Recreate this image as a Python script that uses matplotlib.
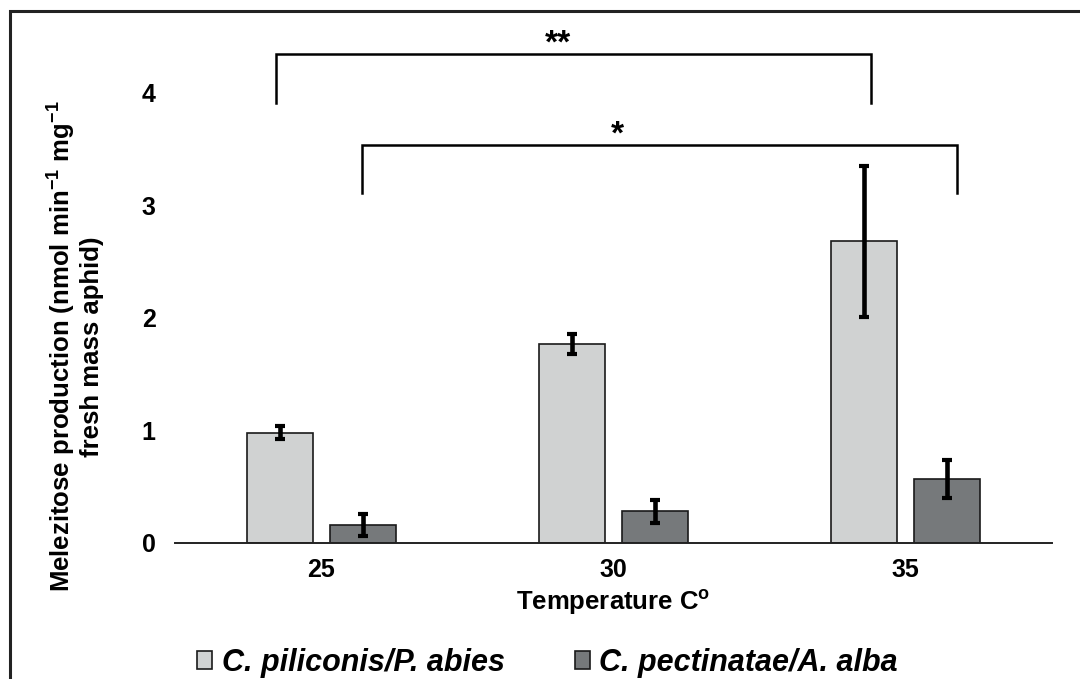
import matplotlib
matplotlib.use("Agg")
import matplotlib.pyplot as plt
import matplotlib.patches as mpatches
import numpy as np

plt.rcParams['font.family'] = ['Liberation Sans', 'DejaVu Sans']
plt.rcParams['font.weight'] = 'bold'
plt.rcParams['mathtext.fontset'] = 'custom'
plt.rcParams['mathtext.rm'] = 'Liberation Sans:bold'
plt.rcParams['mathtext.bf'] = 'Liberation Sans:bold'
plt.rcParams['mathtext.it'] = 'Liberation Sans:bold:italic'

temps = ['25', '30', '35']
piliconis = [0.98, 1.77, 2.68]
piliconis_err = [0.06, 0.09, 0.67]
pectinatae = [0.16, 0.28, 0.57]
pectinatae_err = [0.10, 0.10, 0.17]

# significance brackets: x left, x right, y top, y drop, label, label x
brackets = [(-0.156, 1.88, 4.35, 3.91, '**', 0.81),
            (0.141, 2.175, 3.54, 3.11, '*', 1.015)]

fig = plt.figure(figsize=(10.8, 6.79), dpi=100)
ax = fig.add_axes([175/1080, 0.2003, (1052-175)/1080, 0.7456])

# frame around the figure (only top and left edges are inside the crop)
fig.add_artist(mpatches.Rectangle((9.5/1080, -0.05), 1.2, 1 - 11/679 + 0.05,
                                  transform=fig.transFigure, fill=False,
                                  edgecolor='#222222', linewidth=2.2))

x = np.arange(len(temps))
w = 0.225
off = 0.142
ax.bar(x - off, piliconis, width=w, color='#d0d2d2', edgecolor='#1a1a1a',
       linewidth=1.2, label='C. piliconis/P. abies')
ax.bar(x + off, pectinatae, width=w, color='#76797b', edgecolor='#1a1a1a',
       linewidth=1.2, label='C. pectinatae/A. alba')
ax.errorbar(x - off, piliconis, yerr=piliconis_err, fmt='none', ecolor='black',
            elinewidth=3.3, capsize=3.5, capthick=3)
ax.errorbar(x + off, pectinatae, yerr=pectinatae_err, fmt='none', ecolor='black',
            elinewidth=3.3, capsize=3.5, capthick=3)

for xl, xr, yt, yd, lab, xs in brackets:
    ax.plot([xl, xl, xr, xr], [yd, yt, yt, yd], color='black', lw=1.8,
            clip_on=False, solid_joinstyle='miter')
    ax.text(xs, yt + 0.01, lab, ha='center', va='baseline', fontsize=24,
            fontweight='bold')

ax.set_xlim(-0.5, 2.5)
ax.set_ylim(0, 4.5)
ax.set_xticks(x)
ax.set_xticklabels(temps)
ax.set_yticks([0, 1, 2, 3, 4])
ax.tick_params(axis='both', length=0, labelsize=18)
ax.tick_params(axis='y', pad=14)
ax.tick_params(axis='x', pad=11)
for s in ['top', 'right', 'left']:
    ax.spines[s].set_visible(False)
ax.spines['bottom'].set_linewidth(1.4)
ax.spines['bottom'].set_color('#222222')

ax.set_xlabel('Temperature C$^{\\mathrm{o}}$', fontsize=18.5, fontweight='bold', labelpad=4)
fig.text(75/1080, 0.49,
         'Melezitose production (nmol min$^{-1}$ mg$^{-1}$\nfresh mass aphid)',
         rotation=90, ha='center', va='center', fontsize=18.5, fontweight='bold',
         multialignment='center', linespacing=1.1)

fig.legend(loc='center', bbox_to_anchor=(0.507, 0.024), ncol=2, frameon=False,
           prop={'size': 22, 'weight': 'bold', 'style': 'italic'},
           handlelength=0.5, handleheight=0.5, handletextpad=0.3,
           columnspacing=2.3, borderpad=0)

fig.savefig('out.png', dpi=100)
